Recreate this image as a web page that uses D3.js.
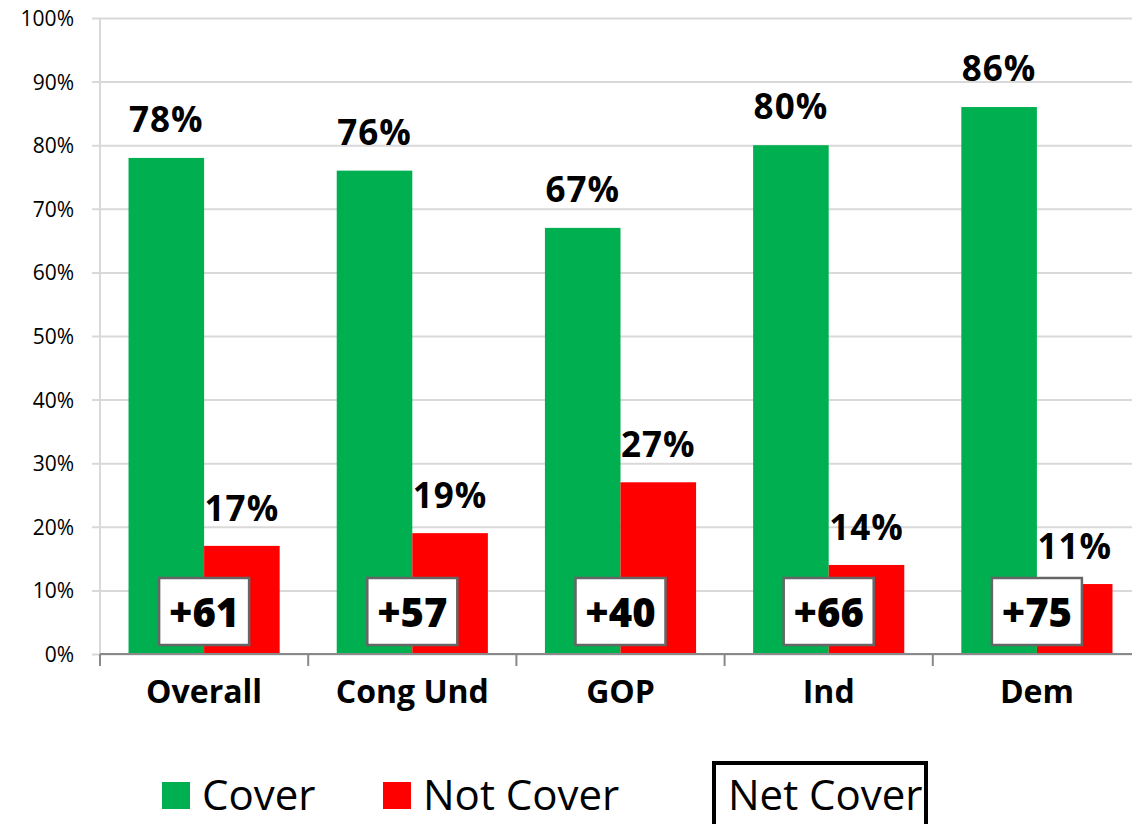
<!DOCTYPE html>
<html>
<head>
<meta charset="utf-8">
<script src="https://cdn.jsdelivr.net/npm/d3@7"></script>
<style>
  html, body { margin: 0; padding: 0; background: #fff; }
  svg { display: block; }
  text { font-family: "Open Sans", "Liberation Sans", sans-serif; }
</style>
</head>
<body>
<svg id="chart" width="1132" height="824"></svg>
<script>
// Share saying coverage applies, by group
const categories = ["Overall", "Cong Und", "GOP", "Ind", "Dem"];
const coverValues = [78, 76, 67, 80, 86];
const notCoverValues = [17, 19, 27, 14, 11];
const netCoverValues = [61, 57, 40, 66, 75];
const yTicks = [0, 10, 20, 30, 40, 50, 60, 70, 80, 90, 100];
const seriesNames = ["Cover", "Not Cover"];
const netLabel = "Net Cover";

const GREEN = "#00B050";
const RED = "#FF0000";

const svg = d3.select("#chart");
const W = 1132, H = 824;

const plotLeft = 100, plotRight = 1141;
const y = d3.scaleLinear().domain([0, 100]).range([654, 18]);

const x = d3.scaleBand()
  .domain(categories)
  .range([plotLeft, plotRight])
  .paddingInner(0.274)
  .paddingOuter(0.137);

const xSub = d3.scaleBand()
  .domain(seriesNames)
  .range([0, x.bandwidth()]);

// Horizontal gridlines with y tick labels
const yAxis = d3.axisLeft(y)
  .tickValues(yTicks)
  .tickFormat(d => d + "%")
  .tickSize(-(W - plotLeft + 10))
  .tickPadding(18);

const gy = svg.append("g")
  .attr("transform", `translate(${plotLeft},0)`)
  .call(yAxis);
gy.select(".domain").remove();
gy.selectAll(".tick line")
  .attr("x1", -8)
  .attr("stroke", "#d9d9d9")
  .attr("stroke-width", 2);
gy.selectAll(".tick text")
  .attr("x", -26)
  .attr("dy", "0.36em")
  .attr("fill", "#000")
  .style("font-size", "21px")
  .style("font-family", "'Open Sans', sans-serif");

// Vertical value axis line
svg.append("line")
  .attr("x1", plotLeft).attr("x2", plotLeft)
  .attr("y1", y(100)).attr("y2", y(0))
  .attr("stroke", "#d9d9d9")
  .attr("stroke-width", 2);

// Bars
const groups = svg.append("g").selectAll("g.cat")
  .data(categories)
  .join("g")
  .attr("class", "cat")
  .attr("transform", d => `translate(${x(d)},0)`);

groups.append("rect")
  .attr("x", xSub("Cover"))
  .attr("width", xSub.bandwidth())
  .attr("y", (d, i) => y(coverValues[i]))
  .attr("height", (d, i) => y(0) - y(coverValues[i]))
  .attr("fill", GREEN);

groups.append("rect")
  .attr("x", xSub("Not Cover"))
  .attr("width", xSub.bandwidth())
  .attr("y", (d, i) => y(notCoverValues[i]))
  .attr("height", (d, i) => y(0) - y(notCoverValues[i]))
  .attr("fill", RED);

// Category axis line and tick marks
svg.append("line")
  .attr("x1", plotLeft).attr("x2", W)
  .attr("y1", y(0)).attr("y2", y(0))
  .attr("stroke", "#898989")
  .attr("stroke-width", 2);

const boundaries = categories.map(c => x(c) - x.step() * x.paddingInner() / 2);
boundaries.push(plotRight);
svg.append("g").selectAll("line")
  .data(boundaries)
  .join("line")
  .attr("x1", d => d).attr("x2", d => d)
  .attr("y1", y(0)).attr("y2", y(0) + 12)
  .attr("stroke", "#898989")
  .attr("stroke-width", 2);

// Category labels
svg.append("g").selectAll("text")
  .data(categories)
  .join("text")
  .attr("x", d => x(d) + x.bandwidth() / 2)
  .attr("y", 703)
  .attr("text-anchor", "middle")
  .style("font-size", "32px")
  .style("font-weight", "700")
  .text(d => d);

// Value labels above bars
groups.append("text")
  .attr("x", xSub("Cover") + xSub.bandwidth() / 2)
  .attr("y", (d, i) => y(coverValues[i]) - 26)
  .attr("text-anchor", "middle")
  .style("font-size", "35px")
  .style("font-weight", "700")
  .style("letter-spacing", "1px")
  .text((d, i) => coverValues[i] + "%");

groups.append("text")
  .attr("x", xSub("Not Cover") + xSub.bandwidth() / 2)
  .attr("y", (d, i) => y(notCoverValues[i]) - 25)
  .attr("text-anchor", "middle")
  .style("font-size", "35px")
  .style("font-weight", "700")
  .style("letter-spacing", "1px")
  .text((d, i) => notCoverValues[i] + "%");

// Net difference boxes
const boxW = 90, boxH = 67;
const netG = groups.append("g")
  .attr("transform", `translate(${x.bandwidth() / 2},0)`);
netG.append("rect")
  .attr("x", -boxW / 2)
  .attr("y", 578)
  .attr("width", boxW)
  .attr("height", boxH)
  .attr("fill", "#fff")
  .attr("stroke", "#666")
  .attr("stroke-width", 2.5);
netG.append("text")
  .attr("x", 0)
  .attr("y", 627)
  .attr("text-anchor", "middle")
  .style("font-size", "40px")
  .style("font-weight", "800")
  .text((d, i) => "+" + netCoverValues[i]);

// Legend
const legend = svg.append("g");
const legendItems = [
  { name: seriesNames[0], color: GREEN, sx: 162, tx: 202 },
  { name: seriesNames[1], color: RED, sx: 383, tx: 423 }
];
legendItems.forEach(it => {
  legend.append("rect")
    .attr("x", it.sx).attr("y", 782)
    .attr("width", 28).attr("height", 27)
    .attr("fill", it.color);
  legend.append("text")
    .attr("x", it.tx).attr("y", 810)
    .style("font-size", "42px")
    .text(it.name);
});
legend.append("rect")
  .attr("x", 714).attr("y", 763)
  .attr("width", 212).attr("height", 80)
  .attr("fill", "none")
  .attr("stroke", "#000")
  .attr("stroke-width", 4);
legend.append("text")
  .attr("x", 728).attr("y", 810)
  .style("font-size", "42px")
  .text(netLabel);
</script>
</body>
</html>
